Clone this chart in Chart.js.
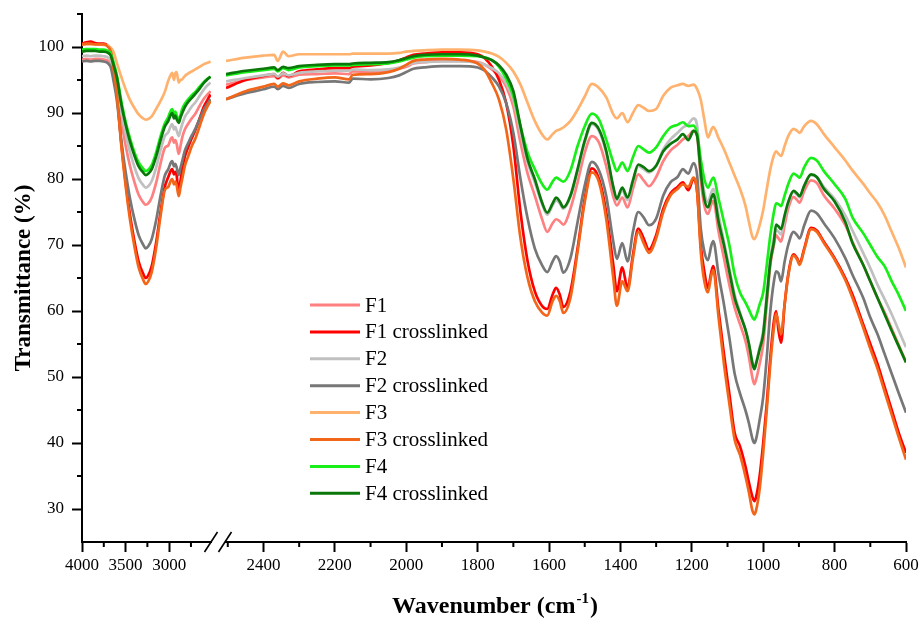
<!DOCTYPE html>
<html lang="en">
<head>
<meta charset="UTF-8">
<title>FTIR – F1–F4</title>
<script src="https://cdn.jsdelivr.net/npm/chart.js"></script>
<style>
  body { margin: 0; background: #fff; }
  #wrap { width: 920px; height: 620px; }
</style>
</head>
<body>
<div id="wrap"><canvas id="graph" width="920" height="620"></canvas></div>
<script>
// wavenumbers (cm-1), axis is broken between 2520 and 2505
const wnLeft = [4000, 3950, 3900, 3850, 3800, 3750, 3700, 3670, 3640, 3600,
  3550, 3500, 3450, 3400, 3350, 3300, 3270, 3240, 3200, 3150,
  3100, 3050, 3010, 2980, 2965, 2945, 2930, 2915, 2890, 2870,
  2850, 2820, 2780, 2740, 2700, 2650, 2600, 2560, 2525];
const wnRight = [2505, 2450, 2400, 2370, 2360, 2345, 2330, 2300, 2250, 2200,
  2160, 2150, 2100, 2050, 2020, 2000, 1980, 1950, 1900, 1850,
  1800, 1780, 1760, 1740, 1720, 1700, 1680, 1660, 1640, 1620,
  1605, 1590, 1580, 1570, 1560, 1540, 1520, 1500, 1480, 1460,
  1440, 1420, 1410, 1395, 1380, 1365, 1350, 1335, 1320, 1300,
  1280, 1260, 1240, 1225, 1210, 1195, 1185, 1175, 1165, 1155,
  1145, 1140, 1125, 1110, 1095, 1080, 1065, 1050, 1040, 1030,
  1025, 1020, 1010, 1000, 990, 980, 970, 964, 957, 950,
  940, 930, 915, 905, 898, 885, 866, 850, 830, 800,
  770, 750, 720, 700, 680, 660, 640, 620, 600];

const seriesNames = ['F1', 'F1 crosslinked', 'F2', 'F2 crosslinked',
  'F3', 'F3 crosslinked', 'F4', 'F4 crosslinked'];

// transmittance (%)
const f1Left = [98.1, 98.2, 98.1, 98.2, 98.2, 98.1, 97.9, 97.4, 95.9, 93.5,
  88.9, 85.1, 82.0, 79.6, 77.6, 76.5, 76.1, 76.3, 77.2, 79.4,
  82.3, 84.7, 85.1, 86.1, 86.3, 85.5, 85.9, 85.4, 83.8, 85.0,
  86.3, 87.5, 88.4, 89.2, 89.9, 91.1, 92.2, 92.8, 93.3];
const f1Right = [94.3, 95.0, 95.4, 95.6, 95.2, 95.7, 95.4, 95.8, 95.9, 96.0,
  95.9, 96.3, 96.2, 96.4, 96.7, 97.0, 97.5, 97.7, 97.9, 97.9,
  97.7, 97.3, 96.6, 95.6, 94.0, 91.0, 85.5, 80.8, 77.5, 74.0,
  72.0, 73.3, 73.9, 73.6, 73.1, 75.5, 79.5, 84.0, 86.5, 85.5,
  82.0, 77.3, 76.0, 77.2, 75.7, 78.5, 80.7, 79.8, 78.9, 80.3,
  82.7, 84.3, 85.2, 86.0, 86.5, 87.3, 86.5, 80.0, 76.0, 74.7,
  76.2, 76.7, 72.0, 68.0, 64.0, 60.5, 58.0, 55.5, 53.0, 49.8,
  48.9, 49.6, 52.0, 55.0, 61.0, 67.0, 70.0, 71.5, 71.0, 70.5,
  73.0, 75.5, 77.3, 76.8, 76.4, 78.2, 79.8, 79.4, 77.5, 75.5,
  73.0, 70.5, 67.0, 64.5, 62.0, 59.8, 57.3, 54.8, 52.3];

const f1cLeft = [100.5, 100.7, 100.8, 100.6, 100.5, 100.5, 100.1, 99.4, 97.0, 93.0,
  85.6, 79.6, 74.6, 70.7, 67.5, 65.7, 65.0, 65.4, 66.8, 70.3,
  74.9, 78.8, 80.3, 81.3, 81.5, 80.7, 81.1, 80.6, 77.9, 79.7,
  81.5, 83.4, 84.9, 86.2, 87.4, 89.2, 91.0, 92.0, 92.8];
const f1cRight = [93.8, 95.0, 95.6, 95.9, 95.3, 96.1, 95.6, 96.3, 96.6, 96.8,
  96.8, 97.0, 97.2, 97.6, 98.0, 98.4, 98.8, 99.0, 99.2, 99.2,
  98.9, 98.3, 97.0, 95.0, 91.5, 85.0, 75.0, 67.5, 63.0, 60.8,
  60.3, 62.5, 63.5, 62.5, 60.6, 63.0, 69.5, 77.0, 81.6, 80.0,
  75.0, 67.0, 63.0, 66.6, 63.5, 68.5, 72.5, 71.0, 69.3, 71.5,
  75.5, 77.8, 78.8, 79.5, 78.3, 80.0, 78.0, 70.0, 66.0, 63.5,
  66.0, 66.8, 60.0, 53.5, 47.5, 41.5, 39.5, 36.5, 34.0, 31.8,
  31.2, 31.8, 35.0, 40.0, 46.0, 53.0, 58.5, 60.0, 57.0, 55.2,
  61.0, 65.5, 68.6, 68.0, 67.2, 69.5, 72.6, 72.2, 70.5, 68.0,
  65.0, 62.5, 58.0, 55.0, 52.0, 48.5, 45.0, 41.5, 38.5];

const f2Left = [98.6, 98.7, 98.6, 98.7, 98.7, 98.6, 98.4, 98.0, 96.6, 94.4,
  90.2, 86.9, 84.1, 81.9, 80.1, 79.1, 78.7, 78.9, 79.7, 81.7,
  84.3, 86.5, 87.1, 88.1, 88.3, 87.5, 87.9, 87.4, 86.5, 87.4,
  88.3, 89.4, 90.2, 91.0, 91.6, 92.6, 93.6, 94.2, 94.6];
const f2Right = [94.8, 95.3, 95.7, 95.9, 95.5, 96.0, 95.7, 96.1, 96.3, 96.4,
  96.4, 96.6, 96.5, 96.6, 96.9, 97.2, 97.6, 97.7, 97.8, 97.8,
  97.6, 97.3, 96.8, 96.0, 94.5, 92.0, 87.0, 82.5, 79.5, 76.3,
  74.6, 76.0, 76.8, 76.3, 75.5, 77.3, 81.2, 85.5, 88.3, 87.3,
  84.0, 78.7, 76.8, 78.3, 76.8, 79.5, 82.0, 81.5, 81.0, 82.0,
  84.5, 86.0, 87.0, 87.8, 88.3, 89.2, 88.0, 81.5, 78.0, 76.5,
  78.0, 78.5, 74.5, 70.5, 66.5, 62.5, 59.8, 57.2, 55.0, 52.2,
  51.5, 52.2, 54.5, 57.0, 62.5, 68.0, 71.0, 72.3, 72.0, 71.6,
  74.0, 76.3, 78.0, 77.6, 77.2, 79.0, 80.6, 80.3, 78.8, 77.0,
  74.5, 72.2, 68.8, 66.5, 64.0, 61.8, 59.5, 57.0, 54.5];

const f2cLeft = [97.8, 97.9, 97.8, 97.9, 97.9, 97.8, 97.5, 96.9, 95.0, 91.9,
  85.9, 81.1, 77.1, 74.0, 71.5, 70.1, 69.5, 69.8, 70.9, 73.7,
  77.4, 80.5, 81.5, 82.5, 82.7, 81.9, 82.3, 81.8, 80.6, 81.7,
  82.7, 84.3, 85.5, 86.6, 87.6, 89.1, 90.6, 91.4, 92.1];
const f2cRight = [92.1, 93.0, 93.6, 94.0, 93.6, 94.1, 93.8, 94.4, 94.7, 94.8,
  94.6, 95.2, 95.1, 95.3, 95.7, 96.2, 96.7, 96.9, 97.1, 97.1,
  96.9, 96.4, 95.4, 94.0, 91.5, 87.0, 80.0, 74.0, 69.5, 67.0,
  65.9, 67.5, 68.3, 67.5, 65.8, 68.0, 73.5, 79.0, 82.6, 81.3,
  77.5, 70.5, 67.9, 70.3, 67.5, 72.0, 75.0, 74.2, 73.0, 74.0,
  77.5, 79.5, 80.3, 81.5, 80.8, 82.4, 80.5, 72.5, 69.0, 67.7,
  70.0, 70.6, 65.5, 61.0, 56.0, 50.5, 47.5, 45.0, 43.0, 40.6,
  40.0, 40.6, 43.5, 47.0, 53.0, 60.0, 64.5, 66.0, 65.7, 64.5,
  67.5, 70.0, 72.0, 71.5, 71.0, 73.0, 75.2, 74.8, 73.3, 71.0,
  68.0, 65.5, 62.0, 59.0, 56.5, 53.5, 50.5, 47.5, 44.6];

const f3Left = [100.3, 100.4, 100.4, 100.4, 100.4, 100.3, 100.2, 99.9, 99.3, 97.6,
  95.5, 93.6, 92.0, 90.8, 89.8, 89.2, 89.0, 89.1, 89.5, 90.6,
  91.8, 93.2, 94.9, 95.8, 96.1, 95.0, 96.0, 96.2, 94.6, 95.0,
  95.1, 95.6, 96.0, 96.3, 96.6, 97.0, 97.4, 97.6, 97.8];
const f3Right = [97.9, 98.4, 98.7, 98.8, 97.9, 99.3, 98.6, 98.9, 98.9, 98.9,
  98.9, 99.0, 99.0, 99.0, 99.1, 99.3, 99.4, 99.5, 99.6, 99.6,
  99.5, 99.3, 99.0, 98.5, 97.6, 96.3, 94.3, 91.5, 88.8, 86.8,
  86.0, 86.8, 87.3, 87.5, 87.8, 88.8, 90.5, 92.5, 94.4, 93.8,
  92.4, 89.8, 89.2, 90.0, 88.6, 90.0, 91.2, 90.8, 90.3, 90.6,
  92.6, 93.8, 94.2, 94.4, 94.1, 94.3, 93.6, 92.0, 89.0, 86.3,
  87.5, 87.9, 86.2, 84.5, 82.5, 80.5, 78.5, 76.0, 73.5, 71.2,
  70.9, 71.3, 73.0, 75.3, 78.5, 81.5, 83.6, 84.2, 83.8, 83.5,
  85.0, 86.5, 87.6, 87.3, 87.0, 88.0, 88.8, 88.3, 86.8, 84.8,
  82.8, 81.3, 79.3, 77.8, 76.4, 74.5, 72.0, 69.5, 66.6];

const f3cLeft = [100.4, 100.5, 100.5, 100.4, 100.4, 100.4, 100.0, 99.3, 96.8, 92.8,
  85.2, 79.0, 73.9, 69.9, 66.6, 64.8, 64.1, 64.5, 65.9, 69.5,
  74.3, 78.3, 78.8, 79.8, 80.0, 79.2, 79.6, 79.1, 77.4, 78.7,
  80.0, 82.0, 83.5, 85.0, 86.1, 88.0, 89.9, 91.0, 91.8];
const f3cRight = [92.1, 93.3, 94.0, 94.4, 94.0, 94.5, 94.2, 94.8, 95.2, 95.4,
  95.1, 95.8, 95.9, 96.2, 96.7, 97.3, 97.9, 98.1, 98.2, 98.1,
  97.5, 96.5, 94.5, 92.0, 87.5, 80.0, 71.0, 65.0, 61.5, 59.8,
  59.3, 61.5, 62.3, 61.5, 59.7, 62.0, 69.0, 76.5, 81.0, 79.5,
  74.0, 65.0, 60.8, 64.5, 63.0, 68.0, 72.0, 70.3, 68.8, 71.0,
  75.0, 77.5, 78.5, 79.2, 78.8, 80.2, 78.0, 69.0, 64.5, 62.8,
  65.5, 66.2, 59.0, 52.0, 46.0, 40.5, 38.2, 35.0, 32.5, 29.7,
  29.2, 29.8, 33.0, 38.5, 45.0, 52.0, 57.5, 59.6, 58.0, 56.5,
  61.0, 65.3, 68.4, 67.8, 67.0, 69.3, 72.4, 72.0, 70.3, 67.8,
  64.7, 62.0, 57.5, 54.3, 51.3, 47.8, 44.3, 40.8, 37.5];

const f4Left = [99.6, 99.7, 99.7, 99.7, 99.6, 99.6, 99.4, 99.0, 97.8, 95.7,
  91.9, 88.7, 86.2, 84.1, 82.5, 81.6, 81.2, 81.4, 82.1, 84.0,
  86.4, 88.4, 89.4, 90.4, 90.6, 89.8, 90.2, 89.7, 88.8, 89.7,
  90.6, 91.4, 92.1, 92.7, 93.2, 94.0, 94.7, 95.2, 95.5];
const f4Right = [95.7, 96.2, 96.5, 96.7, 96.3, 96.8, 96.5, 96.9, 97.1, 97.2,
  97.2, 97.3, 97.4, 97.5, 97.8, 98.1, 98.4, 98.6, 98.7, 98.7,
  98.6, 98.4, 98.0, 97.0, 95.2, 92.6, 88.0, 84.0, 81.5, 79.3,
  78.4, 79.6, 80.2, 79.9, 79.6, 81.3, 85.0, 88.0, 89.9, 89.0,
  86.0, 82.5, 81.2, 82.5, 81.2, 83.3, 85.0, 84.5, 84.0, 84.8,
  86.5, 87.8, 88.2, 88.6, 88.0, 88.1, 86.8, 83.0, 80.0, 78.7,
  79.8, 80.2, 77.0, 73.5, 70.0, 65.5, 62.8, 61.3, 60.2, 59.0,
  58.7, 59.2, 61.0, 62.8, 67.0, 71.5, 75.0, 76.3, 76.2, 75.9,
  77.5, 79.2, 80.8, 80.5, 80.2, 81.8, 83.2, 82.8, 81.2, 79.2,
  77.0, 74.2, 71.8, 70.0, 68.2, 66.8, 64.5, 62.4, 60.0];

const f4cLeft = [99.3, 99.4, 99.4, 99.4, 99.3, 99.3, 99.1, 98.7, 97.4, 95.4,
  91.4, 88.3, 85.7, 83.6, 81.9, 81.0, 80.6, 80.8, 81.5, 83.4,
  85.8, 87.9, 88.8, 89.8, 90.0, 89.2, 89.6, 89.1, 88.5, 89.3,
  90.0, 90.9, 91.7, 92.3, 92.9, 93.7, 94.6, 95.1, 95.5];
const f4cRight = [95.9, 96.4, 96.7, 96.9, 96.5, 97.0, 96.8, 97.1, 97.3, 97.4,
  97.4, 97.5, 97.6, 97.7, 98.0, 98.3, 98.6, 98.8, 98.9, 98.9,
  98.7, 98.4, 98.0, 97.2, 95.8, 93.3, 88.0, 83.0, 80.0, 76.5,
  74.9, 76.3, 77.2, 76.6, 75.7, 77.5, 81.5, 85.8, 88.5, 87.5,
  84.3, 78.8, 77.0, 78.7, 77.2, 79.8, 82.2, 81.8, 81.2, 82.0,
  84.2, 85.3, 86.0, 86.8, 85.9, 87.3, 86.5, 81.0, 77.0, 75.7,
  77.2, 77.7, 73.5, 70.0, 66.0, 62.0, 59.5, 57.2, 55.0, 52.0,
  51.2, 52.0, 54.2, 56.5, 62.0, 67.5, 70.5, 73.1, 72.8, 72.4,
  74.5, 76.5, 78.2, 77.8, 77.4, 79.0, 80.7, 80.3, 78.5, 76.6,
  73.5, 70.3, 67.0, 64.5, 62.0, 59.5, 57.0, 54.6, 52.2];

// axis ticks
const yMajor = [30, 40, 50, 60, 70, 80, 90, 100];
const yMinor = [35, 45, 55, 65, 75, 85, 95, 105];
const xLeftMajor = [4000, 3500, 3000];
const xLeftMinor = [3750, 3250, 2750];
const xRightMajor = [2400, 2200, 2000, 1800, 1600, 1400, 1200, 1000, 800, 600];
const xRightMinor = [2500, 2300, 2100, 1900, 1700, 1500, 1300, 1100, 900, 700];

const seriesLeft = [f1Left, f1cLeft, f2Left, f2cLeft, f3Left, f3cLeft, f4Left, f4cLeft];
const seriesRight = [f1Right, f1cRight, f2Right, f2cRight, f3Right, f3cRight, f4Right, f4cRight];
const lineColors = ['#ff8080', '#ff0000', '#c0c0c0', '#777777',
  '#ffb26e', '#f2661a', '#18ee18', '#0a770a'];

const serif = '"Liberation Serif", "Times New Roman", serif';

// one dataset per segment of the broken axis
const datasets = [];
seriesNames.forEach((name, i) => {
  [[wnLeft, seriesLeft[i], 'xL'], [wnRight, seriesRight[i], 'xR']].forEach(([wn, vals, axis]) => {
    datasets.push({
      label: name,
      data: wn.map((x, k) => ({ x: x, y: vals[k] })),
      xAxisID: axis,
      yAxisID: 'y',
      borderColor: lineColors[i],
      borderWidth: 2.7,
      pointRadius: 0,
      cubicInterpolationMode: 'monotone',
      order: seriesNames.length - i
    });
  });
});

const tickFont = { family: serif, size: 17 };
const axisGrid = { display: true, drawOnChartArea: false, tickLength: 10, tickWidth: 2, tickColor: '#000' };
const axisBorder = { display: true, color: '#000', width: 2 };

// drop the label overhang padding so layout.padding sets the plot box exactly
function noPad(s) {
  s.paddingTop = 0; s.paddingBottom = 0; s.paddingLeft = 0; s.paddingRight = 0;
}

function xAxis(min, max, weight, major) {
  return {
    type: 'linear', position: 'bottom', stack: 'wn', stackWeight: weight,
    min: min, max: max, reverse: true,
    afterBuildTicks: s => { s.ticks = major.map(v => ({ value: v })); },
    afterFit: s => { s.height = 78; noPad(s); },
    ticks: { color: '#000', font: tickFont, padding: 3, maxRotation: 0, autoSkip: false,
      callback: v => String(v) },
    grid: axisGrid,
    border: axisBorder
  };
}

// minor ticks, axis break, x title and legend
const decor = {
  id: 'decor',
  afterDraw(chart) {
    const { ctx, chartArea, scales } = chart;
    ctx.save();
    ctx.strokeStyle = '#000';
    ctx.lineWidth = 2;
    [[scales.y, yMinor], [scales.xL, xLeftMinor], [scales.xR, xRightMinor]].forEach(([s, vals]) => {
      vals.forEach(v => {
        const p = s.getPixelForValue(v);
        ctx.beginPath();
        if (s.isHorizontal()) { ctx.moveTo(p, s.top); ctx.lineTo(p, s.top + 5); }
        else { ctx.moveTo(s.right - 5, p); ctx.lineTo(s.right, p); }
        ctx.stroke();
      });
    });

    // "//" break marks
    ctx.lineWidth = 1.6;
    const by = scales.xL.top;
    [scales.xL.right, scales.xR.left - 1].forEach(cx => {
      ctx.beginPath();
      ctx.moveTo(cx - 6.5, by + 10);
      ctx.lineTo(cx + 6.5, by - 10);
      ctx.stroke();
    });

    // x axis title with superscript
    ctx.fillStyle = '#000';
    ctx.textBaseline = 'alphabetic';
    ctx.textAlign = 'left';
    const big = 'bold 24px ' + serif, small = 'bold 15px ' + serif;
    ctx.font = big;
    const w1 = ctx.measureText('Wavenumber (cm').width;
    const w3 = ctx.measureText(')').width;
    ctx.font = small;
    const w2 = ctx.measureText('-1').width;
    const tx = (chartArea.left + chartArea.right) / 2 - (w1 + w2 + w3) / 2;
    const base = 613;
    ctx.font = big;
    ctx.fillText('Wavenumber (cm', tx, base);
    ctx.font = small;
    ctx.fillText('-1', tx + w1 + 1, base - 10);
    ctx.font = big;
    ctx.fillText(')', tx + w1 + w2 + 2, base);

    // legend
    const lx = chartArea.left + 228, ly = chartArea.top + 291, rowH = 26.9;
    ctx.font = '21px ' + serif;
    ctx.textBaseline = 'middle';
    seriesNames.forEach((name, i) => {
      const y = ly + i * rowH;
      ctx.strokeStyle = lineColors[i];
      ctx.lineWidth = 3;
      ctx.beginPath();
      ctx.moveTo(lx, y);
      ctx.lineTo(lx + 50, y);
      ctx.stroke();
      ctx.fillStyle = '#000';
      ctx.fillText(name, lx + 55, y + 1);
    });
    ctx.restore();
  }
};

new Chart(document.getElementById('graph').getContext('2d'), {
  type: 'line',
  data: { datasets: datasets },
  options: {
    responsive: false,
    animation: false,
    layout: { padding: { left: 0, right: 14, top: 14, bottom: 0 } },
    plugins: { legend: { display: false }, tooltip: { enabled: false } },
    scales: {
      y: {
        type: 'linear', position: 'left', min: 25, max: 105,
        afterBuildTicks: s => { s.ticks = yMajor.map(v => ({ value: v })); },
        afterFit: s => { s.width = 82; noPad(s); },
        ticks: { color: '#000', font: tickFont, padding: 8, callback: v => String(v) },
        grid: axisGrid,
        border: axisBorder,
        title: { display: true, text: 'Transmittance (%)', color: '#000',
          font: { family: serif, size: 23, weight: 'bold' }, padding: { top: 10, bottom: 0 } }
      },
      xL: xAxis(2520, 4000, 129, xLeftMajor),
      xGap: {
        type: 'linear', position: 'bottom', stack: 'wn', stackWeight: 15,
        afterFit: s => { s.height = 78; noPad(s); },
        ticks: { display: false }, grid: { display: false }, border: { display: false }
      },
      xR: xAxis(600, 2505, 680, xRightMajor)
    }
  },
  plugins: [decor]
});
</script>
</body>
</html>
